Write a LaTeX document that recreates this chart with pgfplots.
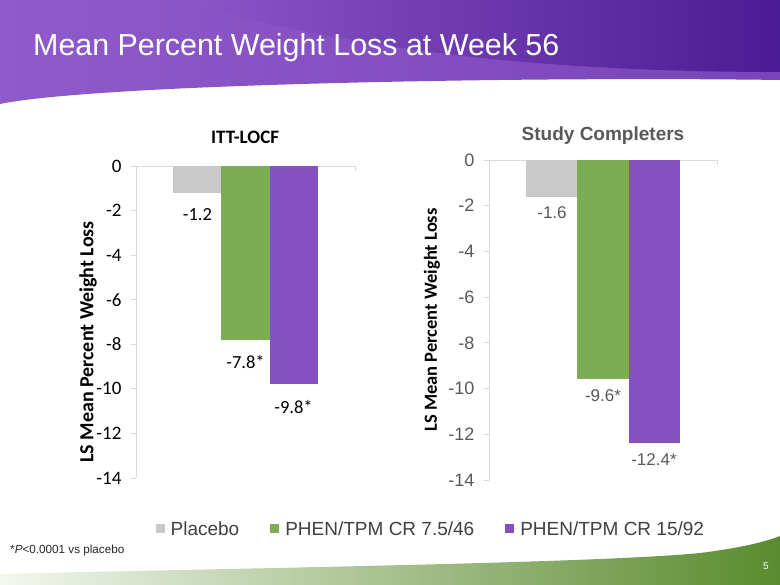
\documentclass[border=0pt]{standalone}
\usepackage{pgfplots}
\pgfplotsset{compat=1.18}
\usepackage{fontspec}
\setmainfont{Liberation Sans}
\newfontfamily\carlito{Carlito}
\definecolor{cPlacebo}{HTML}{C9C9C9}
\definecolor{cGreen}{HTML}{7CAD55}
\definecolor{cPurple}{HTML}{8451C1}
\definecolor{bannerL}{HTML}{8F5AC9}
\definecolor{bannerM}{HTML}{7A44BA}
\definecolor{bannerD}{HTML}{4B1B93}
\definecolor{txtgray}{HTML}{595959}
\definecolor{axgray}{HTML}{D9D9D9}
\definecolor{legtext}{HTML}{404040}
\definecolor{greenL}{HTML}{F3F7EF}
\definecolor{greenM}{HTML}{9DBF7E}
\definecolor{greenD}{HTML}{5A8B2E}

\pgfplotsset{
  mybar/.style={
    scale only axis, ymin=-14, ymax=0, xmin=-1, xmax=1,
    ybar=0pt,
    axis x line*=top, axis y line*=left,
    axis line style={draw=axgray, line width=0.8pt},
    ytick={-14,-12,...,0}, xtick=\empty,
    tick style={draw=axgray, line width=0.8pt},
    tick align=outside, major tick length=5pt,
    /pgf/number format/assume math mode=true,
    extra x ticks={1}, extra x tick labels={},
    extra x tick style={tick align=inside},
    nodes near coords, point meta=explicit symbolic,
    nodes near coords align=vertical,
    clip=false,
  },
  sqlegend/.style={
    legend image code/.code={\fill[##1, draw=none] (0pt,-4.5pt) rectangle (9pt,4.5pt); \path (0pt,0pt) -- (13pt,0pt);}
  },
}
\begin{document}
\begin{tikzpicture}[x=1pt,y=1pt]
\useasboundingbox (0,0) rectangle (780,585);
\fill[white] (0,0) rectangle (780,585);
% banner
\shade[left color=bannerL, right color=bannerM] (0,585) -- (780,585) -- (780,505) .. controls (560,508) and (300,503) .. (150,495) .. controls (80,491) and (30,487) .. (0,481) -- cycle;
\shade[left color=bannerL!85!bannerM, right color=bannerD] (180,585) -- (780,585) -- (780,513) .. controls (600,513) and (380,525) .. (180,585) -- cycle;
\node[anchor=base west, text=white, font=\fontsize{30.4}{30.4}\selectfont, inner sep=0pt] at (33,529) {Mean Percent Weight Loss at Week 56};
% bottom swoosh
\shade[left color=greenL, middle color=greenM, right color=greenD] (0,0) -- (0,11) .. controls (250,17) and (600,22) .. (700,32) .. controls (740,37) and (765,43) .. (780,49) -- (780,0) -- cycle;
\node[text=white, font=\fontsize{10}{10}\selectfont] at (766,19) {5};
\node[anchor=west, font=\fontsize{11.7}{11.7}\selectfont, text=black!85, inner sep=0pt] at (10,35) {*\textit{P}<0.0001 vs placebo};

% left chart
\begin{axis}[mybar, at={(136pt,107pt)}, anchor=south west, width=219pt, height=312pt, bar width=48pt,
  yticklabel style={font=\carlito\fontsize{19}{19}\selectfont, text=black, xshift=-6pt},
  ylabel={LS Mean Percent Weight Loss},
  ylabel style={font=\carlito\bfseries\fontsize{20}{20}\selectfont, at={(axis description cs:-0.219,0.436)}, anchor=center},
  title={ITT-LOCF},
  title style={font=\carlito\bfseries\fontsize{19}{19}\selectfont, at={(axis description cs:0.498,1.074)}, anchor=center, yshift=0pt},
  every node near coord/.append style={font=\carlito\fontsize{18.5}{18.5}\selectfont, text=black, anchor=north, yshift=-12pt},
]
\addplot[fill=cPlacebo, draw=none] coordinates {(0,-1.2) [-1.2]};
\addplot[fill=cGreen, draw=none] coordinates {(0,-7.8) [-7.8*]};
\addplot[fill=cPurple, draw=none] coordinates {(0,-9.8) [-9.8*]};
\end{axis}

% right chart
\begin{axis}[mybar, sqlegend, at={(489pt,105pt)}, anchor=south west, width=228pt, height=320pt, bar width=51pt,
  yticklabel style={font=\fontsize{18}{18}\selectfont, text=txtgray, xshift=-6pt},
  ylabel={LS Mean Percent Weight Loss},
  ylabel style={font=\carlito\bfseries\fontsize{18.5}{18.5}\selectfont, text=black, at={(axis description cs:-0.25,0.5)}, anchor=center},
  title={Study Completers},
  title style={font=\bfseries\fontsize{19}{19}\selectfont, text=txtgray, at={(axis description cs:0.5,1.059)}, anchor=center, yshift=0pt},
  every node near coord/.append style={font=\fontsize{17}{17}\selectfont, text=txtgray, anchor=north, yshift=-7pt},
  legend columns=3,
  legend style={at={(axis description cs:-0.255,-0.153)}, anchor=center, draw=none, fill=none,
    font=\fontsize{19}{19}\selectfont, text=legtext,
    /tikz/every even column/.append style={column sep=29pt}},
]
\addplot[fill=cPlacebo, draw=none] coordinates {(0,-1.6) [-1.6]};
\addplot[fill=cGreen, draw=none] coordinates {(0,-9.6) [-9.6*]};
\addplot[fill=cPurple, draw=none] coordinates {(0,-12.4) [-12.4*]};
\legend{Placebo, PHEN/TPM CR 7.5/46, PHEN/TPM CR 15/92}
\end{axis}
\end{tikzpicture}
\end{document}
